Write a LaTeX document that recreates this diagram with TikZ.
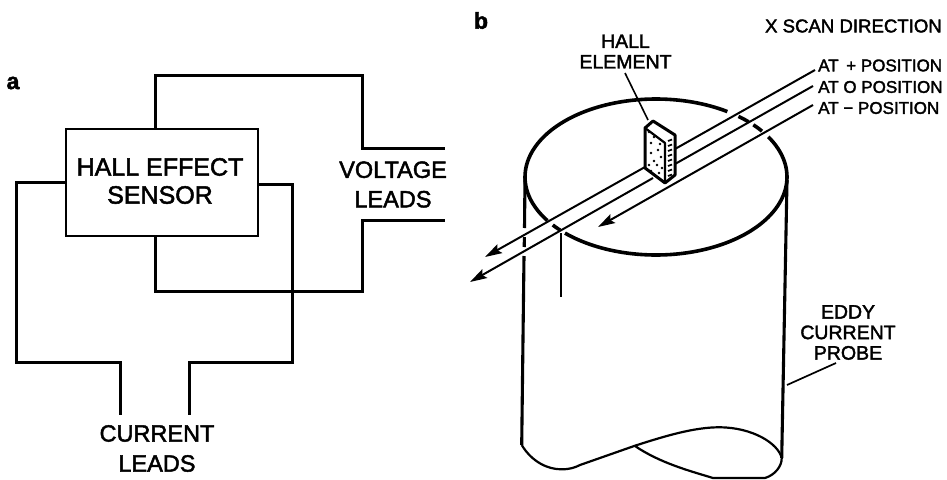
\documentclass[tikz,border=0pt]{standalone}
\usepackage{fontspec}
\setmainfont{Liberation Sans}
\newfontfamily\lett[FakeBold=2]{Liberation Sans}
\newfontfamily\panelfont[FakeBold=2]{Liberation Sans Bold}
\usetikzlibrary{arrows.meta}
\tikzset{
  heavy/.style={line width=3pt,line join=miter},
  boxline/.style={line width=2.3pt},
  rim/.style={line width=3.6pt,variable=\t},
  wall/.style={line width=3.1pt},
  thin line/.style={line width=1.9pt},
  scanline/.style={line width=2pt},
  scan/.style={line width=2pt,-{Stealth[length=17pt,width=10pt,inset=3pt]}},
  lab/.style={inner sep=0pt,align=center,font=\lett\fontsize{25}{28}\selectfont},
  mid/.style={inner sep=0pt,align=center,font=\lett\fontsize{19.5}{20.5}\selectfont},
  small/.style={inner sep=0pt,anchor=west,font=\lett\fontsize{17}{18}\selectfont},
  panel/.style={inner sep=0pt,font=\panelfont\fontsize{23}{24}\selectfont},
}
\begin{document}
\begin{tikzpicture}[x=1pt,y=-1pt]
\useasboundingbox (0,0) rectangle (947,479);
% ---- panel a
\node[panel] (pa) at (13,83) {a};
\node[draw,boxline,fill=white,minimum width=192pt,minimum height=107pt,inner sep=0pt,anchor=north west] (sensor) at (65,128) {};
\node[lab] (sensortext) at (160,181) {HALL EFFECT\\SENSOR};
\node[lab,font=\lett\fontsize{23.5}{29.5}\selectfont] (vlabel) at (393,184.5) {VOLTAGE\\LEADS};
\node[lab,font=\lett\fontsize{23.5}{30}\selectfont] (clabel) at (157,448.5) {CURRENT\\LEADS};
\coordinate (vt) at (155,128);
\coordinate (vb) at (155,235);
\coordinate (cl) at (65,182);
\coordinate (cr) at (257,184);
\coordinate (vtend) at (445,148);
\coordinate (vbend) at (445,220);
\coordinate (clend) at (120,415);
\coordinate (crend) at (189,415);
\draw[heavy] (vt) -- (155,75) -- (362,75) -- (362,148) -- (vtend);
\draw[heavy] (vb) -- (155,291) -- (362,291) -- (362,220) -- (vbend);
\draw[heavy] (cl) -- (16,182) -- (16,362) -- (120,362) -- (clend);
\draw[heavy] (cr) -- (292.5,184) -- (292.5,362) -- (189,362) -- (crend);
% ---- panel b
\node[panel] (pb) at (481,20.5) {b};
\node[mid] (hall) at (625.5,51.5) {HALL\\ELEMENT};
\node[mid,anchor=east,font=\lett\fontsize{18.6}{20}\selectfont] (xscan) at (942,26) {X SCAN DIRECTION};
\node[small] (ap) at (818,65.5) {AT \,+ POSITION};
\node[small] (a0) at (818,87) {AT O POSITION};
\node[small] (am) at (818,108) {AT − POSITION};
\node[mid] (eddy) at (848,332.5) {EDDY\\CURRENT\\PROBE};
% ellipse
\draw[rim,domain=31:-134,samples=70,smooth] plot ({656+131*cos(\t)},{177-78*sin(\t)});
\draw[rim,domain=-146:-303,samples=70,smooth] plot ({656+131*cos(\t)},{177-78*sin(\t)});
\draw[rim,domain=-137:-142,samples=5] plot ({656+131*cos(\t)},{177-78*sin(\t)});
\draw[rim,domain=51:45,samples=5] plot ({656+131*cos(\t)},{177-78*sin(\t)});
\draw[rim,domain=42:36,samples=5] plot ({656+131*cos(\t)},{177-78*sin(\t)});
% walls
\draw[wall] (525,177) -- (524.5,228);
\draw[wall] (524.4,237) -- (524.2,247);
\draw[wall] (524,256) -- (521.7,445);
\draw[wall] (787,180) -- (781.7,458);
\draw[thin line] (560.7,233) -- (560.7,297);
% bottom edge
\draw[line width=2.2pt] (521.7,445) .. controls (532,462) and (548,469.5) .. (561.7,469.3)
   .. controls (570,469.3) and (575,467.5) .. (580,465)
   -- (635,445.7) .. controls (665,436) and (695,427) .. (720,427.3)
   .. controls (752,427.5) and (778,443) .. (781.7,458)
   .. controls (782,466) and (775,475) .. (765,478)
   -- (713,478) .. controls (690,471) and (660,463) .. (635,446);
% scan lines
\coordinate (s1) at (815,70);   \coordinate (e1) at (485,257);
\coordinate (s2) at (813,86);   \coordinate (e2) at (470,282);
\coordinate (s3) at (813,105);  \coordinate (e3) at (598,227);
\draw[scanline] (s1) -- (675,149);
\draw[scan] (645,167) -- (e1);
\draw[scanline] (s2) -- (675,164);
\draw[scan] (653,178) -- (e2);
\draw[scan] (s3) -- (e3);
% leaders
\draw[line width=1.6pt] (625,73) -- (648,120);
\draw[line width=1.7pt] (787,385) -- (836,363);
% Hall element
\draw[line width=3pt,line join=round,fill=white] (653,121) -- (645,128) -- (645,168) -- (665,183) -- (675,175) -- (675,135) -- cycle;
\draw[line width=2.2pt,line join=round] (645,128) -- (665,143) -- (665,183);
\foreach \x/\y in {649/132,654/137,660/144,651/143,658/150,651/153,661/157,654/161,649/165,657/165,662/168,651/171,659/173}
  \fill (\x,\y) circle (1.3pt);
\foreach \y in {141,146,151,156,161,166,171,176}{
  \draw[line width=1.7pt] (668,\y) -- (672,\y-1.5);
}
\end{tikzpicture}
\end{document}
